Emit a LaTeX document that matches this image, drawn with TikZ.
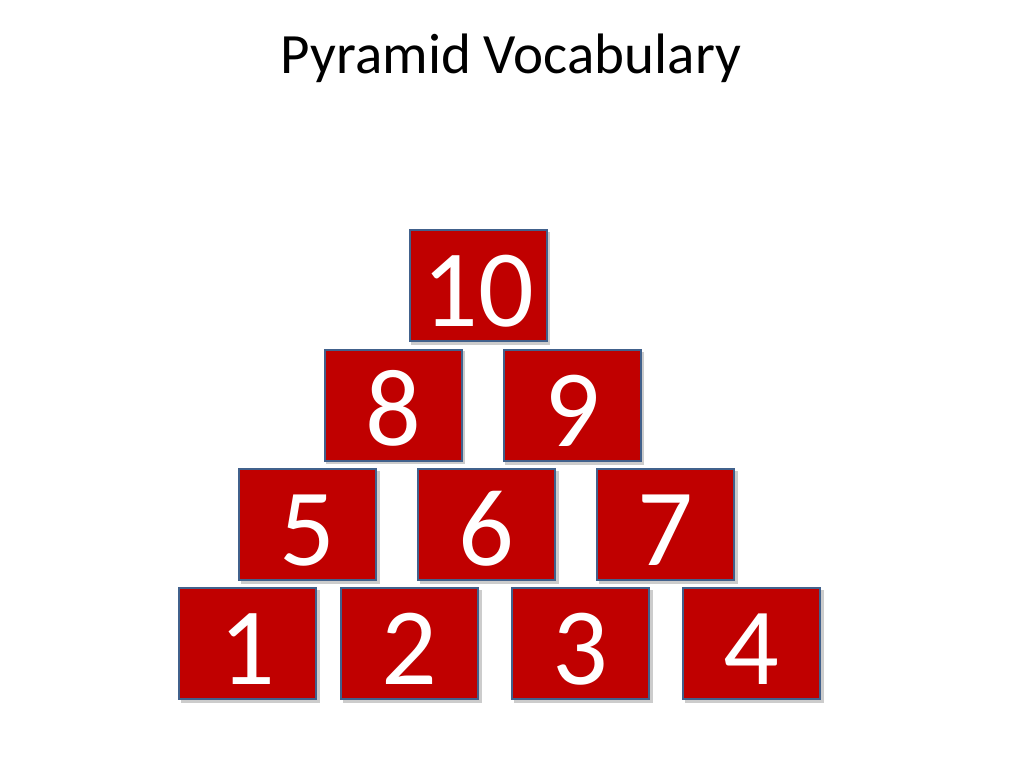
\documentclass[tikz,border=0pt]{standalone}
\usepackage{fontspec}
\setmainfont{Carlito}
\definecolor{boxred}{HTML}{C00000}
\definecolor{boxedge}{HTML}{41618C}
\begin{document}
\begin{tikzpicture}[x=1pt,y=-1pt,
  numbox/.style={rectangle, fill=boxred, draw=boxedge, line width=2pt,
    minimum width=137pt, minimum height=111pt, inner sep=0pt},
  numshadow/.style={rectangle, fill=black, opacity=0.2,
    minimum width=139pt, minimum height=113pt, inner sep=0pt},
  numtext/.style={anchor=base, text=white, inner sep=0pt,
    font=\fontsize{110}{110}\selectfont},
  title/.style={anchor=base, inner sep=0pt, font=\fontsize{57}{57}\selectfont}]
\useasboundingbox (0,0) rectangle (1024,768);
\node[title] (t) at (511,73) {Pyramid Vocabulary};
\foreach \n/\cx/\cy in {10/478/285.5, 8/393/405, 9/572/405.5,
   5/307.5/524.5, 6/486.5/524.5, 7/665.5/524.5,
   1/247.5/643.5, 2/409.5/643.5, 3/580.5/643.5, 4/751.5/643.5}{
  \node[numshadow] (s\n) at (\cx+2.5,\cy+2.5) {};
  \node[numbox] (b\n) at (\cx,\cy) {};
  \node[numtext] (l\n) at ([yshift=16pt]b\n.south) {\n};
}
\end{tikzpicture}
\end{document}
